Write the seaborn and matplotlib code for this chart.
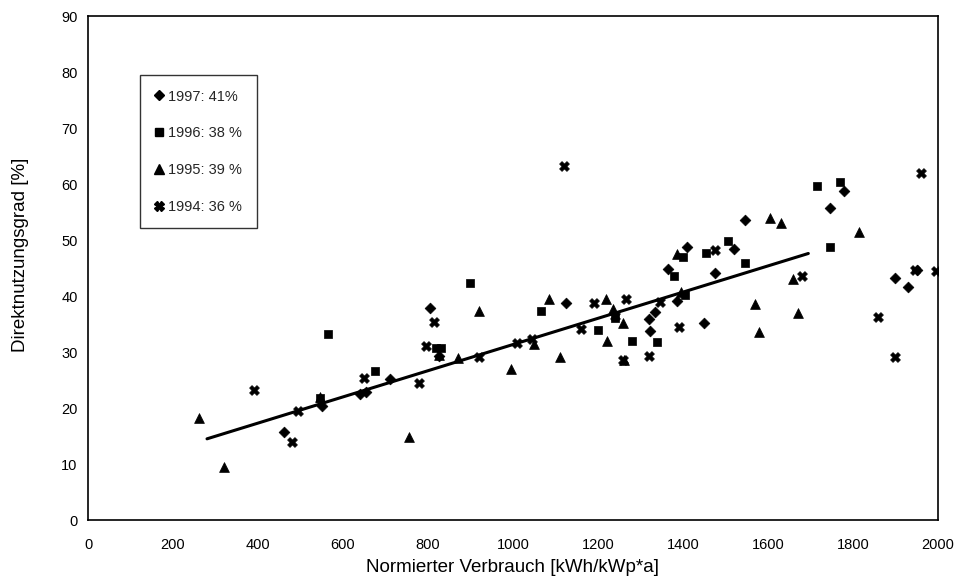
import numpy as np
import pandas as pd
import matplotlib
matplotlib.use("Agg")
import matplotlib.pyplot as plt
import seaborn as sns
from matplotlib.lines import Line2D

# Normierter Verbrauch [kWh/kWp*a] and Direktnutzungsgrad [%] per year
x_1997 = [460, 550, 640, 655, 710, 805, 825, 1125, 1320, 1322, 1335, 1365, 1385,
          1410, 1450, 1475, 1520, 1545, 1745, 1780, 1900, 1930, 1950]
y_1997 = [15.8, 20.3, 22.5, 22.8, 25.2, 37.8, 29.3, 38.8, 35.9, 33.8, 37.2, 44.9, 39.1,
          48.7, 35.2, 44.1, 48.4, 53.5, 55.7, 58.7, 43.2, 41.6, 44.7]

x_1996 = [545, 565, 675, 820, 830, 900, 1065, 1200, 1240, 1280, 1340, 1380, 1400,
          1405, 1455, 1505, 1545, 1715, 1745, 1770]
y_1996 = [21.8, 33.2, 26.6, 30.8, 30.8, 42.3, 37.4, 33.9, 36.0, 32.0, 31.8, 43.6, 46.9,
          40.2, 47.7, 49.8, 45.9, 59.6, 48.7, 60.4]

x_1995 = [260, 320, 545, 755, 825, 870, 920, 995, 1050, 1085, 1110, 1220, 1222, 1235,
          1260, 1262, 1385, 1395, 1570, 1580, 1605, 1630, 1660, 1670, 1815]
y_1995 = [18.2, 9.4, 21.9, 14.8, 29.5, 28.9, 37.3, 27.0, 31.5, 39.5, 29.2, 39.5, 32.0, 37.6,
          35.2, 28.5, 47.5, 40.8, 38.5, 33.5, 54.0, 53.1, 43.1, 37.0, 51.4]

x_1994 = [390, 480, 495, 650, 780, 795, 815, 920, 1010, 1045, 1120, 1160, 1190, 1240,
          1265, 1258, 1320, 1345, 1390, 1475, 1680, 1860, 1900, 1945, 1960, 1995]
y_1994 = [23.2, 14.0, 19.5, 25.4, 24.4, 31.1, 35.3, 29.2, 31.6, 32.4, 63.2, 34.2, 38.8, 36.5,
          39.4, 28.5, 29.3, 39.0, 34.4, 48.2, 43.6, 36.3, 29.2, 44.7, 61.9, 44.5]

series_labels = ["1997: 41%", "1996: 38 %", "1995: 39 %", "1994: 36 %"]

# Trend line endpoints
trend_x = [280, 1695]
trend_y = [14.5, 47.6]

x_ticks = [0, 200, 400, 600, 800, 1000, 1200, 1400, 1600, 1800, 2000]
y_ticks = [0, 10, 20, 30, 40, 50, 60, 70, 80, 90]

frames = []
for lab, xs, ys in zip(series_labels, [x_1997, x_1996, x_1995, x_1994],
                       [y_1997, y_1996, y_1995, y_1994]):
    frames.append(pd.DataFrame({"verbrauch": xs, "grad": ys, "jahr": lab}))
df = pd.concat(frames, ignore_index=True)

sns.set_theme(style="white")
plt.rcParams["font.family"] = ["Liberation Sans", "DejaVu Sans"]

fig = plt.figure(figsize=(9.62, 5.86), dpi=100)
ax = fig.add_axes([0.0915, 0.1126, 0.8835, 0.86])

marker_map = {series_labels[0]: "D", series_labels[1]: "s",
              series_labels[2]: "^", series_labels[3]: "X"}
size_map = {series_labels[0]: 30, series_labels[1]: 38,
            series_labels[2]: 50, series_labels[3]: 50}

for lab in series_labels:
    sub = df[df["jahr"] == lab]
    sns.scatterplot(data=sub, x="verbrauch", y="grad", marker=marker_map[lab],
                    s=size_map[lab], color="black", edgecolor="black",
                    linewidth=0.5, ax=ax, legend=False, zorder=3)

sns.lineplot(x=trend_x, y=trend_y, color="black", linewidth=2.2, ax=ax,
             legend=False, zorder=2)

ax.set_xlim(0, 2000)
ax.set_ylim(0, 90)
ax.set_xticks(x_ticks)
ax.set_yticks(y_ticks)
ax.tick_params(axis="x", direction="inout", length=8, width=1, labelsize=10.5,
               colors="black", pad=9)
ax.tick_params(axis="y", direction="inout", length=7, width=1, labelsize=10.5,
               colors="black", pad=4)
for sp in ax.spines.values():
    sp.set_color("black")
    sp.set_linewidth(1.2)
    sp.set_visible(True)

ax.set_xlabel("Normierter Verbrauch [kWh/kWp*a]", fontsize=13.5, color="black",
              labelpad=5)
ax.set_ylabel("Direktnutzungsgrad [%]", fontsize=13.5, color="black")
ax.yaxis.set_label_coords(-0.07, 0.527)

handles = [
    Line2D([], [], marker="D", color="black", linestyle="none", markersize=5),
    Line2D([], [], marker="s", color="black", linestyle="none", markersize=5.5),
    Line2D([], [], marker="^", color="black", linestyle="none", markersize=6.5),
    Line2D([], [], marker="X", color="black", linestyle="none", markersize=6.5),
]
leg = ax.legend(handles, series_labels, loc="upper left",
                bbox_to_anchor=(0.061, 0.883), fontsize=10.5, frameon=True,
                fancybox=False, edgecolor="black", labelspacing=1.56,
                handlelength=0.6, handletextpad=0.35, borderpad=1.0,
                borderaxespad=0.0)
leg.get_frame().set_linewidth(1.0)

fig.savefig("out.png", dpi=100, facecolor="white")
